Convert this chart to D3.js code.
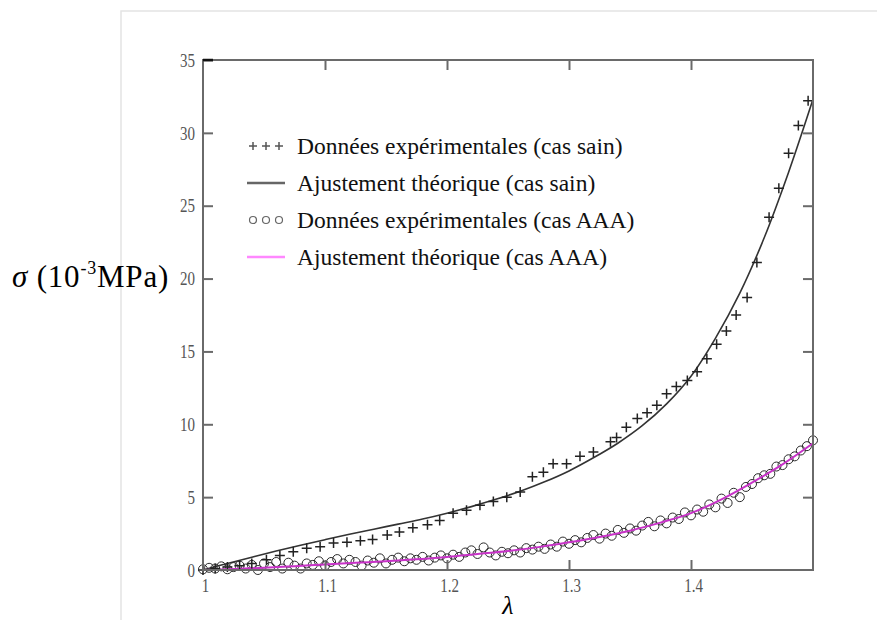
<!DOCTYPE html>
<html>
<head>
<meta charset="utf-8">
<script src="https://cdn.jsdelivr.net/npm/d3@7"></script>
<style>
  body { margin: 0; background: #fff; }
  svg { display: block; font-family: "Liberation Serif", "Times New Roman", serif; }
</style>
</head>
<body>
<svg id="chart" width="877" height="620"></svg>
<script>
// experimental data, healthy case (crosses)
var lambdaSain = [1.000, 1.010, 1.020, 1.030, 1.040, 1.052, 1.063, 1.074, 1.085, 1.096, 1.107, 1.118, 1.129, 1.139,
  1.151, 1.161, 1.172, 1.184, 1.194, 1.205, 1.216, 1.227, 1.238, 1.249, 1.260, 1.270, 1.279, 1.287, 1.298,
  1.309, 1.320, 1.334, 1.339, 1.347, 1.356, 1.364, 1.372, 1.380, 1.388, 1.397, 1.405, 1.413, 1.421, 1.429,
  1.437, 1.446, 1.454, 1.464, 1.472, 1.480, 1.488, 1.496];
var sigmaSain = [0.0, 0.1, 0.2, 0.3, 0.45, 0.7, 1.0, 1.25, 1.5, 1.6, 1.85, 1.9, 2.0, 2.1,
  2.4, 2.6, 2.9, 3.1, 3.4, 3.9, 4.1, 4.45, 4.7, 5.0, 5.35, 6.4, 6.7, 7.3, 7.3,
  7.8, 8.1, 8.8, 9.1, 9.8, 10.4, 10.8, 11.3, 12.1, 12.6, 13.0, 13.6, 14.5, 15.5, 16.4,
  17.5, 18.7, 21.1, 24.2, 26.2, 28.6, 30.5, 32.2];

// theoretical fit, healthy case
var lambdaFitSain = [1.00, 1.02, 1.04, 1.06, 1.08, 1.10, 1.12, 1.14, 1.16, 1.18, 1.20, 1.22, 1.24,
  1.26, 1.28, 1.30, 1.32, 1.34, 1.36, 1.38, 1.40, 1.42, 1.44, 1.46, 1.48, 1.50];
var sigmaFitSain = [0, 0.45, 0.88, 1.3, 1.7, 2.08, 2.45, 2.8, 3.15, 3.5, 3.9, 4.35, 4.85,
  5.4, 6.05, 6.8, 7.7, 8.7, 9.9, 11.4, 13.3, 15.9, 19.0, 22.8, 27.3, 32.3];

// experimental data, AAA case (circles)
var lambdaAAA = [1.000, 1.005, 1.010, 1.015, 1.020, 1.025, 1.030, 1.035, 1.040, 1.045, 1.050, 1.055, 1.060,
  1.065, 1.070, 1.075, 1.080, 1.085, 1.090, 1.095, 1.100, 1.105, 1.110, 1.115, 1.120, 1.125, 1.130,
  1.135, 1.140, 1.145, 1.150, 1.155, 1.160, 1.165, 1.170, 1.175, 1.180, 1.185, 1.190, 1.195, 1.200,
  1.205, 1.210, 1.215, 1.220, 1.225, 1.230, 1.235, 1.240, 1.245, 1.250, 1.255, 1.260, 1.265, 1.270,
  1.275, 1.280, 1.285, 1.290, 1.295, 1.300, 1.305, 1.310, 1.315, 1.320, 1.325, 1.330, 1.335, 1.340,
  1.345, 1.350, 1.355, 1.360, 1.365, 1.370, 1.375, 1.380, 1.385, 1.390, 1.395, 1.400, 1.405, 1.410,
  1.415, 1.420, 1.425, 1.430, 1.435, 1.440, 1.445, 1.450, 1.455, 1.460, 1.465, 1.470, 1.475, 1.480,
  1.485, 1.490, 1.495, 1.500];
var sigmaAAA = [0.05, 0.15, 0.1, 0.25, 0.05, 0.2, 0.3, 0.1, 0.35, 0.0, 0.45, 0.2, 0.55,
  0.1, 0.5, 0.3, 0.1, 0.45, 0.35, 0.6, 0.3, 0.55, 0.75, 0.45, 0.7, 0.55, 0.3,
  0.65, 0.5, 0.8, 0.45, 0.7, 0.85, 0.6, 0.8, 0.7, 0.9, 0.65, 0.85, 1.0, 0.8,
  1.05, 0.9, 1.2, 1.35, 1.1, 1.55, 1.2, 1.0, 1.25, 1.15, 1.35, 1.2, 1.5, 1.4,
  1.6, 1.45, 1.75, 1.6, 1.95, 1.8, 2.05, 1.9, 2.2, 2.4, 2.15, 2.5, 2.35, 2.75,
  2.55, 2.85, 2.7, 3.05, 3.3, 3.0, 3.4, 3.2, 3.6, 3.5, 3.95, 3.75, 4.15, 4.0,
  4.5, 4.3, 4.9, 4.6, 5.3, 5.0, 5.7, 5.9, 6.3, 6.5, 6.6, 7.1, 7.2, 7.6,
  7.8, 8.2, 8.5, 8.9];

// theoretical fit, AAA case
var lambdaFitAAA = [1.000, 1.025, 1.050, 1.075, 1.100, 1.125, 1.150, 1.175, 1.200, 1.225, 1.250,
  1.275, 1.300, 1.325, 1.350, 1.375, 1.400, 1.425, 1.450, 1.475, 1.500];
var sigmaFitAAA = [0, 0.07, 0.15, 0.26, 0.38, 0.49, 0.6, 0.74, 0.9, 1.1, 1.3,
  1.57, 1.9, 2.27, 2.7, 3.25, 3.9, 4.85, 6.0, 7.25, 8.7];

var xTicks = [1, 1.1, 1.2, 1.3, 1.4];
var yTicks = [0, 5, 10, 15, 20, 25, 30, 35];
var legendLabels = [
  "Données expérimentales (cas sain)",
  "Ajustement théorique (cas sain)",
  "Données expérimentales (cas AAA)",
  "Ajustement théorique (cas AAA)"
];

var svg = d3.select("#chart");
var margin = { top: 60, right: 64, bottom: 50, left: 203 };
var width = 877 - margin.left - margin.right;
var height = 620 - margin.top - margin.bottom;

var x = d3.scaleLinear().domain([1, 1.5]).range([margin.left, margin.left + width]);
var y = d3.scaleLinear().domain([0, 35]).range([margin.top + height, margin.top]);

// outer light frame
svg.append("rect")
  .attr("x", 121).attr("y", 11)
  .attr("width", 800).attr("height", 700)
  .attr("fill", "none")
  .attr("stroke", "#e4e4e4")
  .attr("stroke-width", 1.5);

var plot = svg.append("g");

// theoretical curves
var fitLine = d3.line()
  .x(d => x(d[0]))
  .y(d => y(d[1]))
  .curve(d3.curveCatmullRom);

plot.append("path")
  .datum(d3.zip(lambdaFitSain, sigmaFitSain))
  .attr("d", fitLine)
  .attr("fill", "none")
  .attr("stroke", "#333")
  .attr("stroke-width", 1.6);

// circles
plot.selectAll("circle.aaa")
  .data(d3.zip(lambdaAAA, sigmaAAA))
  .enter().append("circle")
  .attr("class", "aaa")
  .attr("cx", d => x(d[0]))
  .attr("cy", d => y(d[1]))
  .attr("r", 4.5)
  .attr("fill", "none")
  .attr("stroke", "#2a2a2a")
  .attr("stroke-width", 1);

plot.append("path")
  .datum(d3.zip(lambdaFitAAA, sigmaFitAAA))
  .attr("d", fitLine)
  .attr("fill", "none")
  .attr("stroke", "#c833c8")
  .attr("stroke-width", 2);

// crosses
plot.selectAll("path.sain")
  .data(d3.zip(lambdaSain, sigmaSain))
  .enter().append("path")
  .attr("class", "sain")
  .attr("d", d => `M${x(d[0]) - 5},${y(d[1])}h10M${x(d[0])},${y(d[1]) - 5}v10`)
  .attr("stroke", "#222")
  .attr("stroke-width", 1.5);

// box
svg.append("rect")
  .attr("x", margin.left).attr("y", margin.top)
  .attr("width", width).attr("height", height)
  .attr("fill", "none")
  .attr("stroke", "#6a6a6a")
  .attr("stroke-width", 2);

function styleAxis(g) {
  g.select(".domain").remove();
  g.selectAll(".tick line").attr("stroke", "#6a6a6a").attr("stroke-width", 2);
  g.selectAll(".tick text")
    .attr("fill", "#555")
    .attr("font-size", 15)
    .attr("font-family", "Liberation Serif, serif")
    .attr("transform", "scale(1,1.3)");
}

svg.append("g")
  .attr("transform", `translate(${margin.left},0)`)
  .call(d3.axisLeft(y).tickValues(yTicks).tickSize(-10).tickPadding(8).tickFormat(d3.format("d")))
  .call(styleAxis)
  .call(g => g.selectAll(".tick").filter(d => d == 0).select("line").remove());

svg.append("g")
  .attr("transform", `translate(${margin.left + width},0)`)
  .call(d3.axisRight(y).tickValues(yTicks.slice(1, -1)).tickSize(-10).tickFormat(""))
  .call(styleAxis);

svg.append("g")
  .attr("transform", `translate(0,${margin.top + height})`)
  .call(d3.axisBottom(x).tickValues(xTicks).tickSize(-10).tickPadding(6).tickFormat(d3.format("")))
  .call(styleAxis)
  .call(g => g.selectAll(".tick").filter(d => d == 1).select("line").remove())
  .call(g => g.selectAll(".tick text").attr("dx", 2));

svg.append("g")
  .attr("transform", `translate(0,${margin.top})`)
  .call(d3.axisTop(x).tickValues(xTicks.slice(1)).tickSize(-10).tickFormat(""))
  .call(styleAxis);

// corner mark at top left
svg.append("line")
  .attr("x1", margin.left).attr("x2", margin.left + 10)
  .attr("y1", margin.top).attr("y2", margin.top)
  .attr("stroke", "#111").attr("stroke-width", 2.5);

// legend
var legend = svg.append("g").attr("transform", "translate(247,146)");
var rowH = 37;

legend.selectAll("text")
  .data(legendLabels)
  .enter().append("text")
  .attr("x", 50)
  .attr("y", (d, i) => i * rowH + 8)
  .attr("font-size", 23.5)
  .attr("fill", "#111")
  .text(d => d);

[5, 18, 31].forEach(function (cx) {
  legend.append("path")
    .attr("d", `M${cx + 1 - 4},0h8M${cx + 1},-4v8`)
    .attr("stroke", "#555").attr("stroke-width", 1.5);
  legend.append("circle")
    .attr("cx", cx + 1).attr("cy", rowH * 2)
    .attr("r", 3.5)
    .attr("fill", "none").attr("stroke", "#666").attr("stroke-width", 1.2);
});
legend.append("line")
  .attr("x1", 0).attr("x2", 38).attr("y1", rowH).attr("y2", rowH)
  .attr("stroke", "#666").attr("stroke-width", 2.5);
legend.append("line")
  .attr("x1", 0).attr("x2", 38).attr("y1", rowH * 3).attr("y2", rowH * 3)
  .attr("stroke", "#ff88ff").attr("stroke-width", 2.5);

// axis titles
var ylab = svg.append("text")
  .attr("x", 12).attr("y", 287)
  .attr("font-size", 31)
  .attr("letter-spacing", 0.8)
  .attr("fill", "#000");
ylab.append("tspan").attr("font-style", "italic").text("σ");
ylab.append("tspan").text(" (10");
ylab.append("tspan").attr("font-size", 18).attr("dy", -13).text("-3");
ylab.append("tspan").attr("dy", 13).text("MPa)");

svg.append("text")
  .attr("x", margin.left + width / 2)
  .attr("y", 614)
  .attr("text-anchor", "middle")
  .attr("font-size", 26)
  .attr("font-style", "italic")
  .text("λ");
</script>
</body>
</html>
